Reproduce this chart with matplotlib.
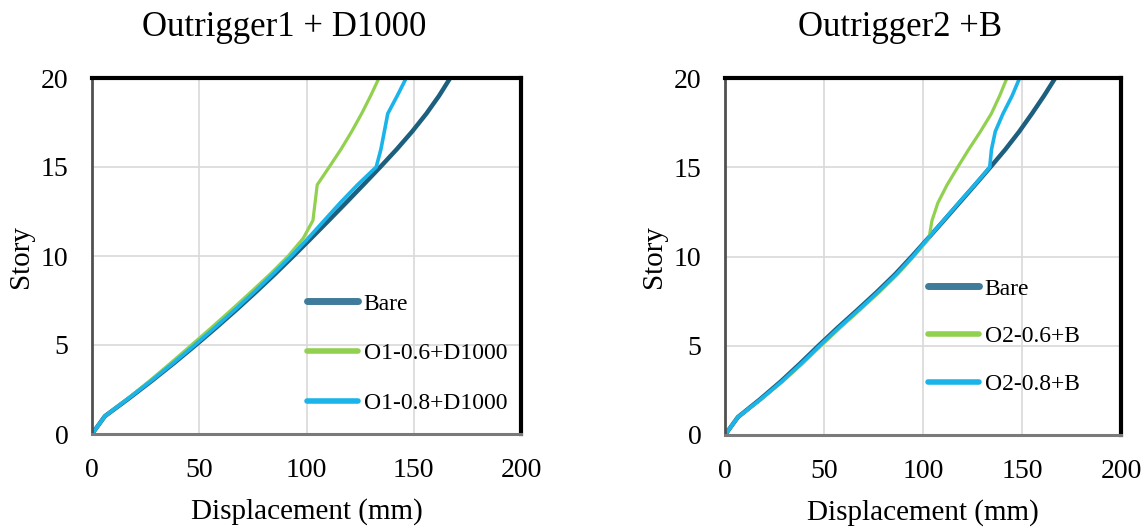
import matplotlib
matplotlib.use("Agg")
import matplotlib.pyplot as plt

# story levels
story = list(range(21))

# left chart: Outrigger1 + D1000 (displacement, mm)
bare_1 = [0, 6, 17.2, 28, 38.4, 48.4, 58.1, 67.5, 76.6, 85.4, 93.9, 102.2, 110.4,
          118.5, 126.5, 134.4, 142.1, 149.3, 155.9, 161.8, 167]
o1_06 = [0, 6, 16.8, 27, 36.8, 46.4, 55.9, 65.2, 74.3, 83.2, 91.5, 98.5, 103, 104,
         105, 110.6, 116.1, 121.1, 125.7, 129.9, 133.8]
o1_08 = [0, 6, 17, 27.7, 38, 47.9, 57.5, 66.8, 75.8, 84.5, 92.9, 100.8, 108.3,
         115.8, 123.8, 132.5, 134.7, 136.3, 137.9, 142.3, 146.5]

# right chart: Outrigger2 +B
bare_2 = [0, 6.5, 17.7, 28.2, 37.9, 47.2, 56.8, 66.8, 76.6, 85.9, 94.3, 102.4, 110.4,
          118.3, 126.2, 134, 141.6, 148.6, 155, 161.1, 166.8]
o2_06 = [0, 6.5, 18.3, 29.2, 39.1, 48.5, 58.1, 68.1, 77.9, 87.1, 95.3, 103, 104.5,
         107.5, 112.1, 117.5, 123.1, 129, 134.5, 138.7, 142.4]
o2_08 = [0, 6.5, 18, 28.7, 38.5, 47.8, 57.4, 67.4, 77.2, 86.5, 94.8, 102.4, 110.2,
         118, 126, 133.7, 134.6, 136.5, 140.4, 145, 148.8]

titles = ["Outrigger1 + D1000", "Outrigger2 +B"]
labels_1 = ["Bare", "O1-0.6+D1000", "O1-0.8+D1000"]
labels_2 = ["Bare", "O2-0.6+B", "O2-0.8+B"]

C_BARE = "#1d5f7e"
C_GREEN = "#92d050"
C_BLUE = "#1ab4ea"

plt.rcParams["font.family"] = ["Liberation Serif", "DejaVu Serif"]

W, H = 1148, 529
fig = plt.figure(figsize=(W / 100, H / 100), dpi=100)


def px_axes(x0, x1, y_top, y_bot):
    return fig.add_axes([x0 / W, 1 - y_bot / H, (x1 - x0) / W, (y_bot - y_top) / H])


def style(ax):
    ax.set_xlim(0, 200)
    ax.set_ylim(0, 20)
    ax.set_xticks([0, 50, 100, 150, 200])
    ax.set_yticks([0, 5, 10, 15, 20])
    ax.grid(True, color="#d9d9d9", linewidth=1.2)
    ax.set_axisbelow(True)
    ax.tick_params(length=0, labelsize=20)
    ax.tick_params(axis="x", pad=17)
    ax.tick_params(axis="y", pad=17)
    ax.spines["top"].set_linewidth(3)
    ax.spines["right"].set_linewidth(3)
    ax.spines["top"].set_color("black")
    ax.spines["right"].set_color("black")
    ax.spines["left"].set_linewidth(2)
    ax.spines["left"].set_color("#505050")
    ax.spines["bottom"].set_linewidth(2.2)
    ax.spines["bottom"].set_color("#7a7a7a")
    ax.set_xlabel("Displacement (mm)", fontsize=21, labelpad=11)
    ax.set_ylabel("Story", fontsize=21, labelpad=5)


ax1 = px_axes(92, 521, 78, 434)
ax2 = px_axes(725, 1121, 78, 435)

for ax, data, labels in [
    (ax1, (bare_1, o1_06, o1_08), labels_1),
    (ax2, (bare_2, o2_06, o2_08), labels_2),
]:
    ax.plot(data[0], story, color=C_BARE, lw=3.2, label=labels[0], solid_capstyle="round")
    ax.plot(data[1], story, color=C_GREEN, lw=2.3, label=labels[1], solid_capstyle="round")
    ax.plot(data[2], story, color=C_BLUE, lw=2.6, label=labels[2], solid_capstyle="round")
    style(ax)

leg1 = ax1.legend(loc="upper left", bbox_to_anchor=(307 / W, 1 - 293 / H),
                  bbox_transform=fig.transFigure, frameon=False, fontsize=17,
                  handlelength=2.15, handletextpad=0.25, labelspacing=1.2,
                  borderpad=0, borderaxespad=0)
leg2 = ax2.legend(loc="upper left", bbox_to_anchor=(928 / W, 1 - 278 / H),
                  bbox_transform=fig.transFigure, frameon=False, fontsize=17,
                  handlelength=2.15, handletextpad=0.25, labelspacing=1.12,
                  borderpad=0, borderaxespad=0)
for leg in (leg1, leg2):
    hs = leg.legend_handles
    hs[0].set_linewidth(5)
    hs[0].set_color("#3f7b9a")
    hs[1].set_linewidth(4)
    hs[2].set_linewidth(4)

fig.text(284 / W, 1 - 28 / H, titles[0], ha="center", va="center", fontsize=25)
fig.text(900 / W, 1 - 28 / H, titles[1], ha="center", va="center", fontsize=25)

fig.savefig("out.png", dpi=100)
